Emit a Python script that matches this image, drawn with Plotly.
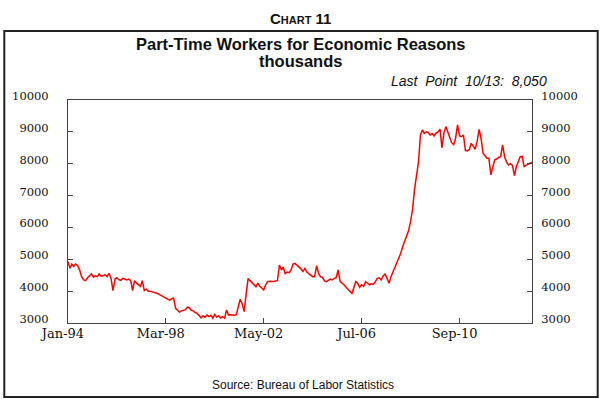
import pandas as pd
import plotly.graph_objects as go

# ---- data (thousands, monthly, Jan-1994 .. Oct-2013) ----
y1994 = [4925, 4720, 4850, 4780, 4850, 4800, 4660, 4455, 4350, 4330, 4420, 4470]
y1995 = [4540, 4440, 4480, 4455, 4540, 4470, 4480, 4520, 4460, 4560, 4400, 4020]
y1996 = [4380, 4420, 4360, 4340, 4400, 4380, 4350, 4380, 4330, 4020, 4330, 4250]
y1997 = [4200, 4150, 4330, 4020, 4060, 4000, 4000, 3980, 3960, 3950, 3920, 3880]
y1998 = [3850, 3830, 3790, 3770, 3720, 3760, 3780, 3460, 3400, 3340, 3380, 3400]
y1999 = [3420, 3500, 3480, 3400, 3380, 3330, 3300, 3240, 3160, 3230, 3180, 3250]
y2000 = [3200, 3240, 3150, 3270, 3180, 3230, 3160, 3200, 3150, 3410, 3250, 3260]
y2001 = [3250, 3240, 3260, 3500, 3745, 3600, 3355, 3900, 4400, 4330, 4260, 4200]
y2002 = [4140, 4250, 4150, 4100, 4040, 4200, 4300, 4310, 4300, 4300, 4320, 4330]
y2003 = [4820, 4665, 4750, 4550, 4600, 4580, 4665, 4850, 4870, 4820, 4780, 4700]
y2004 = [4620, 4715, 4600, 4560, 4500, 4455, 4450, 4800, 4550, 4450, 4435, 4320]
y2005 = [4300, 4330, 4380, 4350, 4400, 4420, 4665, 4300, 4250, 4200, 4120, 4050]
y2006 = [4000, 3930, 4100, 4300, 4250, 4120, 4200, 4150, 4300, 4250, 4200, 4230]
y2007 = [4220, 4300, 4400, 4420, 4350, 4480, 4540, 4400, 4250, 4450, 4600, 4770]
y2008 = [4925, 5050, 5190, 5400, 5550, 5700, 5900, 6200, 6570, 7200, 7700, 8040]
y2009 = [8900, 9060, 8950, 9000, 8980, 8900, 8950, 8870, 8960, 9000, 9080, 8500]
y2010 = [8960, 9165, 9000, 8800, 8660, 8600, 8800, 9220, 8870, 8850, 8900, 8420]
y2011 = [8400, 8450, 8640, 8550, 8450, 8700, 9080, 8800, 8330, 8250, 8170, 8170]
y2012 = [7650, 7900, 8120, 8150, 8200, 8220, 8590, 8220, 8050, 7960, 8000, 7950]
y2013 = [7625, 7910, 8050, 8220, 8230, 7910, 7950, 7990, 8020, 8050]

values = (y1994 + y1995 + y1996 + y1997 + y1998 + y1999 + y2000 + y2001 + y2002 +
          y2003 + y2004 + y2005 + y2006 + y2007 + y2008 + y2009 + y2010 + y2011 +
          y2012 + y2013)
start_month = "1994-01-01"
dates = pd.date_range(start_month, periods=len(values), freq="MS")

x_tick_dates = ["1994-01-01", "1998-03-01", "2002-05-01", "2006-07-01", "2010-09-01"]
x_tick_text = ["Jan-94", "Mar-98", "May-02", "Jul-06", "Sep-10"]
y_ticks = [3000, 4000, 5000, 6000, 7000, 8000, 9000, 10000]
y_tick_text = [str(v) for v in y_ticks]

# ---- figure ----
fig = go.Figure()
fig.add_trace(go.Scatter(x=dates, y=values, mode="lines",
                         line=dict(color="#ff0000", width=1.5),
                         hoverinfo="skip", showlegend=False))
fig.add_trace(go.Scatter(x=dates, y=values, mode="lines", yaxis="y2",
                         line=dict(color="rgba(0,0,0,0)", width=0),
                         hoverinfo="skip", showlegend=False))

axis_color = "#444444"
serif = "DejaVu Serif"

fig.update_layout(
    width=600, height=399,
    margin=dict(l=66, r=68, t=100, b=76),
    paper_bgcolor="white", plot_bgcolor="white",
    xaxis=dict(type="date", range=["1994-01-01", "2013-10-01"],
               tickvals=x_tick_dates, ticktext=x_tick_text,
               ticks="inside", ticklen=5, tickcolor=axis_color,
               showline=True, linecolor=axis_color, linewidth=1, mirror=True,
               showgrid=False, zeroline=False,
               tickfont=dict(family=serif, size=13, color="#111"),
               ticklabelshift=-5, ticklabelstandoff=-2),
    yaxis=dict(range=[3000, 10000], tickvals=y_ticks, ticktext=y_tick_text,
               ticks="inside", ticklen=5, tickcolor=axis_color,
               showline=True, linecolor=axis_color, linewidth=1,
               showgrid=False, zeroline=False,
               tickfont=dict(family=serif, size=11.5, color="#111"),
               ticklabelposition="outside",
               ticklabelstandoff=16, ticklabelshift=-4),
    yaxis2=dict(range=[3000, 10000], tickvals=y_ticks, ticktext=y_tick_text,
                overlaying="y", side="right",
                ticks="inside", ticklen=5, tickcolor=axis_color,
                showline=True, linecolor=axis_color, linewidth=1,
                showgrid=False, zeroline=False,
                tickfont=dict(family=serif, size=11.5, color="#111"),
                ticklabelposition="outside",
                ticklabelstandoff=6, ticklabelshift=-4),
    showlegend=False,
)

# outer frame
fig.add_shape(type="rect", xref="paper", yref="paper",
              x0=-0.1373, x1=1.1416, y0=-0.3318, y1=1.3094,
              line=dict(color="#222222", width=2), layer="below")

sans = "Arial, Liberation Sans, sans-serif"
fig.add_annotation(xref="paper", yref="paper", x=0.502, y=1.3677,
                   text="<b>C<span style='font-size:11px'>HART</span> 11</b>",
                   showarrow=False, xanchor="center", yanchor="middle",
                   font=dict(family=sans, size=15, color="#111"))
fig.add_annotation(xref="paper", yref="paper", x=0.502, y=1.2511,
                   text="<b>Part-Time Workers for Economic Reasons</b>",
                   showarrow=False, xanchor="center", yanchor="middle",
                   font=dict(family=sans, size=16.5, color="#111"))
fig.add_annotation(xref="paper", yref="paper", x=0.502, y=1.1749,
                   text="<b>thousands</b>",
                   showarrow=False, xanchor="center", yanchor="middle",
                   font=dict(family=sans, size=16.5, color="#111"))
fig.add_annotation(xref="paper", yref="paper", x=1.0365, y=1.083,
                   text="<i>Last\u00a0 Point\u00a0 10/13:\u00a0 8,050</i>",
                   showarrow=False, xanchor="right", yanchor="middle",
                   font=dict(family=sans, size=14, color="#111"))
fig.add_annotation(xref="paper", yref="paper", x=0.506, y=-0.278,
                   text="Source: Bureau of Labor Statistics",
                   showarrow=False, xanchor="center", yanchor="middle",
                   font=dict(family=sans, size=12, color="#111"))

fig.write_html("out.html",
               config={"displayModeBar": False, "staticPlot": True},
               post_script="document.body.style.margin='0';document.body.style.overflow='hidden';")
